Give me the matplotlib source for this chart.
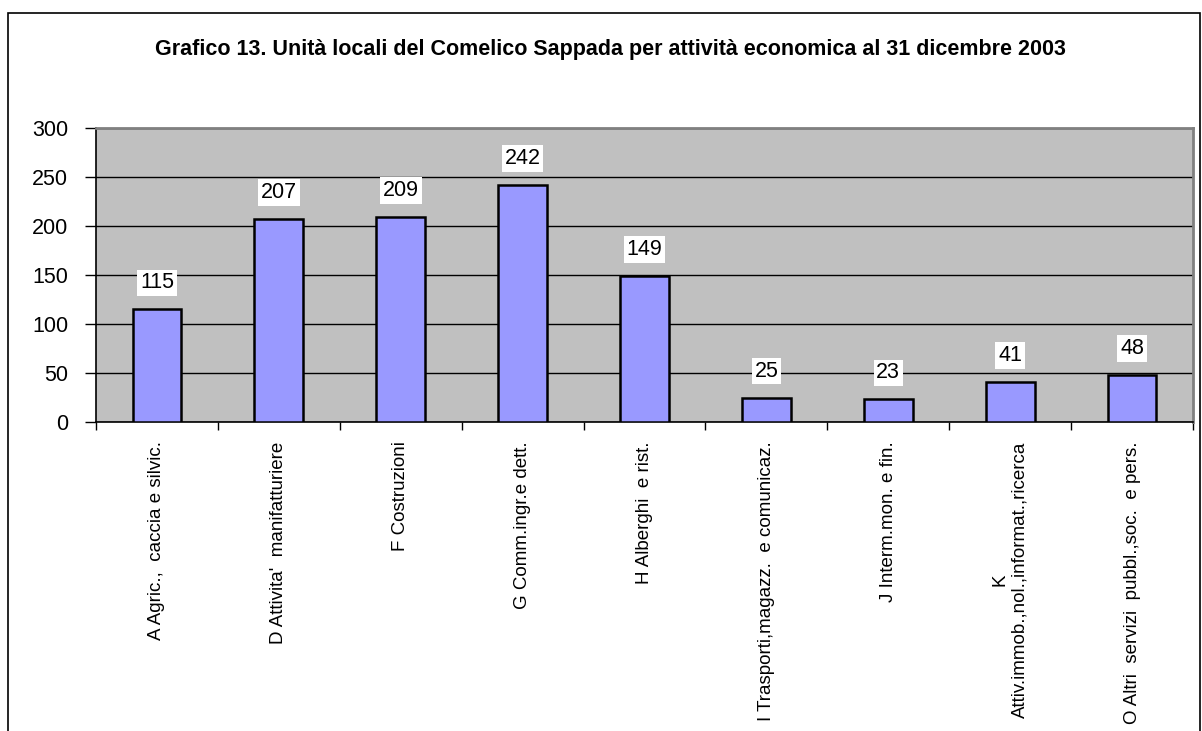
import matplotlib.pyplot as plt
import numpy as np
from matplotlib.patches import Rectangle

plt.rcParams['font.family'] = ['Liberation Sans', 'DejaVu Sans']

categorie = ["A Agric.,  caccia e silvic.",
             "D Attivita'  manifatturiere",
             "F Costruzioni",
             "G Comm.ingr.e dett.",
             "H Alberghi  e rist.",
             "I Trasporti,magazz.  e comunicaz.",
             "J Interm.mon. e fin.",
             "K\nAttiv.immob.,nol.,informat.,ricerca",
             "O Altri  servizi  pubbl.,soc.  e pers."]
unita = [115, 207, 209, 242, 149, 25, 23, 41, 48]

fig = plt.figure(figsize=(12.02, 7.31), dpi=100)
# cornice del grafico
fig.patches.append(Rectangle((8/1202, -0.1), 1200/1202 - 8/1202, 1.1 - 13/731,
                             transform=fig.transFigure, fill=False,
                             edgecolor='black', linewidth=1.2))

ax = fig.add_axes([96/1202, 1 - 422/731, (1193-96)/1202, (422-128)/731])
ax.set_facecolor('#C0C0C0')

x = np.arange(len(unita))
ax.bar(x, unita, width=0.4, color='#9999FF', edgecolor='black', linewidth=1.8, zorder=3)

# etichette dei valori
for xi, v in zip(x, unita):
    ax.text(xi, v + 27, str(v), ha='center', va='center', fontsize=15.5,
            bbox=dict(facecolor='white', edgecolor='none', pad=2.0), zorder=4)

ax.set_xlim(-0.5, len(unita) - 0.5)
ax.set_ylim(0, 300)
ax.set_yticks(np.arange(0, 301, 50))
ax.yaxis.grid(True, color='black', linewidth=1)
ax.set_axisbelow(True)
ax.tick_params(axis='y', labelsize=15.5, direction='out', length=8, width=1, pad=12)

ax.set_xticks(x)
ax.set_xticklabels(categorie, rotation=90, fontsize=13.5, va='top', ha='center',
                   multialignment='center')
ax.tick_params(axis='x', length=0, pad=14)
ax.set_xticks(np.arange(-0.5, len(unita), 1), minor=True)
ax.tick_params(axis='x', which='minor', length=6, width=1, direction='out')

for s in ['left', 'bottom']:
    ax.spines[s].set_color('black')
    ax.spines[s].set_linewidth(1.2)
for s in ['top', 'right']:
    ax.spines[s].set_color('#808080')
    ax.spines[s].set_linewidth(2)

fig.text(610/1202, 1 - 50/731,
         "Grafico 13. Unità locali del Comelico Sappada per attività economica al 31 dicembre 2003",
         ha='center', va='center', fontsize=15.5, fontweight='bold')

fig.savefig('out.png', dpi=100)
